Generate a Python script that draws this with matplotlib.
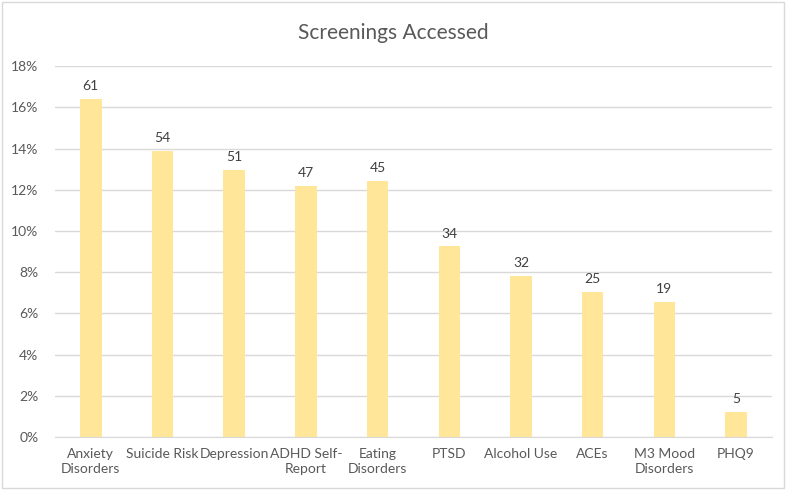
import numpy as np
import matplotlib.pyplot as plt
from matplotlib.ticker import PercentFormatter
from matplotlib.patches import Rectangle

plt.rcParams['font.family'] = ['Lato', 'DejaVu Sans']

screenings = ['Anxiety\nDisorders', 'Suicide Risk', 'Depression', 'ADHD Self-\nReport',
              'Eating\nDisorders', 'PTSD', 'Alcohol Use', 'ACEs', 'M3 Mood\nDisorders', 'PHQ9']
pct_accessed = [16.4, 13.9, 12.95, 12.2, 12.45, 9.25, 7.8, 7.05, 6.55, 1.2]
counts = [61, 54, 51, 47, 45, 34, 32, 25, 19, 5]

text_col = '#595959'
bar_col = '#FFE699'
grid_col = '#D9D9D9'

fig = plt.figure(figsize=(7.86, 4.90), dpi=100)
ax = fig.add_axes([0.070, 0.108, 0.912, 0.757])

x = np.arange(len(screenings))
bars = ax.bar(x, pct_accessed, width=0.3, color=bar_col, zorder=2)
ax.bar_label(bars, labels=[str(c) for c in counts], padding=5, fontsize=10, color='#404040')

ax.set_xlim(-0.5, len(screenings) - 0.5)
ax.set_ylim(0, 18)
ax.set_yticks(np.arange(0, 19, 2))
ax.yaxis.set_major_formatter(PercentFormatter(decimals=0))
ax.set_xticks(x)
ax.set_xticklabels(screenings, fontsize=10, color=text_col, linespacing=1.25)
ax.tick_params(axis='y', labelsize=10, labelcolor=text_col, length=0, pad=12)
ax.tick_params(axis='x', length=0, pad=8)
ax.grid(axis='y', color=grid_col, linewidth=1, zorder=0)
for s in ['top', 'right', 'left']:
    ax.spines[s].set_visible(False)
ax.spines['bottom'].set_color(grid_col)

fig.text(0.5, 0.932, 'Screenings Accessed', ha='center', va='center', fontsize=15, color=text_col)

# thin chart border
fig.patches.append(Rectangle((0.002, 0.004), 0.996, 0.992, transform=fig.transFigure,
                             fill=False, edgecolor='#D9D9D9', linewidth=1))

fig.savefig('out.png', dpi=100)
